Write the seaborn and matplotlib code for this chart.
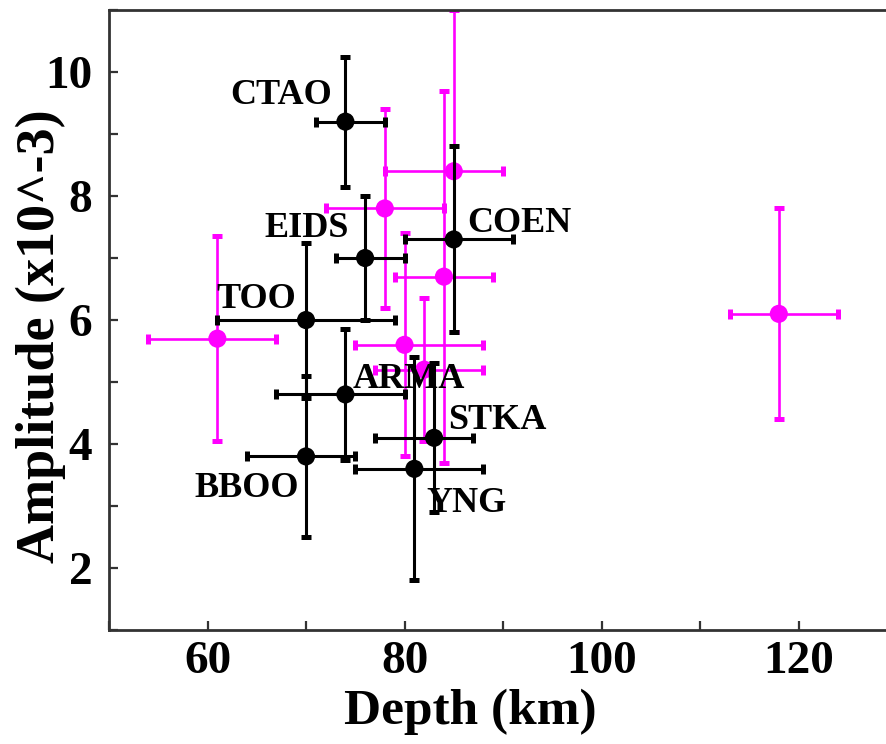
import numpy as np
import pandas as pd
import matplotlib
matplotlib.use("Agg")
import matplotlib.pyplot as plt
import seaborn as sns
from matplotlib.ticker import MultipleLocator

# ---- data (black: labelled stations) ----
stations = ["CTAO", "EIDS", "COEN", "TOO", "ARMA", "BBOO", "STKA", "YNG"]
depth_b = [74, 76, 85, 70, 74, 70, 83, 81]
depth_b_lo = [3, 3, 5, 9, 7, 6, 6, 6]
depth_b_hi = [4, 4, 6, 9, 6, 5, 4, 7]
amp_b = [9.2, 7.0, 7.3, 6.0, 4.8, 3.8, 4.1, 3.6]
amp_b_err = [1.05, 1.0, 1.5, 1.25, 1.05, 1.3, 1.2, 1.8]

# ---- data (magenta: unlabelled) ----
depth_m = [61, 85, 78, 84, 80, 82, 118]
depth_m_lo = [7, 7, 6, 5, 5, 5, 5]
depth_m_hi = [6, 5, 6, 5, 8, 6, 6]
amp_m = [5.7, 8.4, 7.8, 6.7, 5.6, 5.2, 6.1]
amp_m_err = [1.65, 2.6, 1.6, 3.0, 1.8, 1.15, 1.7]

x_ticks = [60, 80, 100, 120]
y_ticks = [2, 4, 6, 8, 10]

# label placement (offset in points from the station point)
label_layout = {
    "CTAO": (-10, 13, "right"),
    "EIDS": (-11.5, 15, "right"),
    "COEN": (10, 5, "left"),
    "TOO": (-7, 8.6, "right"),
    "ARMA": (5, 4.5, "left"),
    "BBOO": (-5, -29, "right"),
    "STKA": (10, 6.3, "left"),
    "YNG": (8.6, -31, "left"),
}

sns.set_style("ticks")
plt.rcParams["font.family"] = ["Liberation Serif", "DejaVu Serif"]
plt.rcParams["font.weight"] = "bold"
plt.rcParams["text.color"] = "black"
plt.rcParams["axes.labelcolor"] = "black"
plt.rcParams["xtick.labelcolor"] = "black"
plt.rcParams["ytick.labelcolor"] = "black"

fig = plt.figure(figsize=(8.87, 7.44), dpi=100)
ax = fig.add_axes([0.1229, 0.1532, 0.8884, 0.8333])

magenta = "#FF00FF"
df_b = pd.DataFrame({"depth": depth_b, "amp": amp_b, "station": stations})
df_m = pd.DataFrame({"depth": depth_m, "amp": amp_m})

ax.errorbar(depth_m, amp_m, xerr=[depth_m_lo, depth_m_hi], yerr=amp_m_err,
            fmt="none", ecolor=magenta, elinewidth=1.9, capsize=3.6,
            capthick=3.6, zorder=2)
sns.scatterplot(data=df_m, x="depth", y="amp", color=magenta, s=170,
                edgecolor="none", zorder=3, ax=ax)

ax.errorbar(depth_b, amp_b, xerr=[depth_b_lo, depth_b_hi], yerr=amp_b_err,
            fmt="none", ecolor="black", elinewidth=2.2, capsize=3.6,
            capthick=3.6, zorder=4)
sns.scatterplot(data=df_b, x="depth", y="amp", color="black", s=170,
                edgecolor="none", zorder=5, ax=ax)

for st, xv, yv in zip(stations, depth_b, amp_b):
    dx, dy, ha = label_layout[st]
    ax.annotate(st, xy=(xv, yv), xytext=(dx, dy), textcoords="offset points",
                ha=ha, va="baseline", fontsize=26, fontweight="bold",
                color="black", zorder=6)

ax.set_xlim(50, 130)
ax.set_ylim(1, 11)
ax.set_xticks(x_ticks)
ax.set_yticks(y_ticks)
ax.xaxis.set_minor_locator(MultipleLocator(10))
ax.yaxis.set_minor_locator(MultipleLocator(1))
ax.tick_params(axis="both", which="both", direction="in", length=6.5,
               width=1.6, color="#333333", top=False, right=False)
ax.tick_params(axis="x", which="major", pad=8, labelsize=34, labelcolor="black")
ax.tick_params(axis="y", which="major", pad=12, labelsize=34, labelcolor="black")
for lab in ax.get_xticklabels() + ax.get_yticklabels():
    lab.set_fontweight("bold")

for side in ["left", "bottom", "top"]:
    ax.spines[side].set_visible(True)
    ax.spines[side].set_color("#333333")
    ax.spines[side].set_linewidth(2)
ax.spines["right"].set_visible(False)

ax.set_xlabel("Depth (km)", fontsize=37, fontweight="bold", color="black")
ax.set_ylabel("Amplitude (x10^-3)", fontsize=39, fontweight="bold", color="black")
ax.xaxis.set_label_coords(0.459, -0.095)
ax.yaxis.set_label_coords(-0.055, 0.474)

fig.savefig("out.png", dpi=100)
